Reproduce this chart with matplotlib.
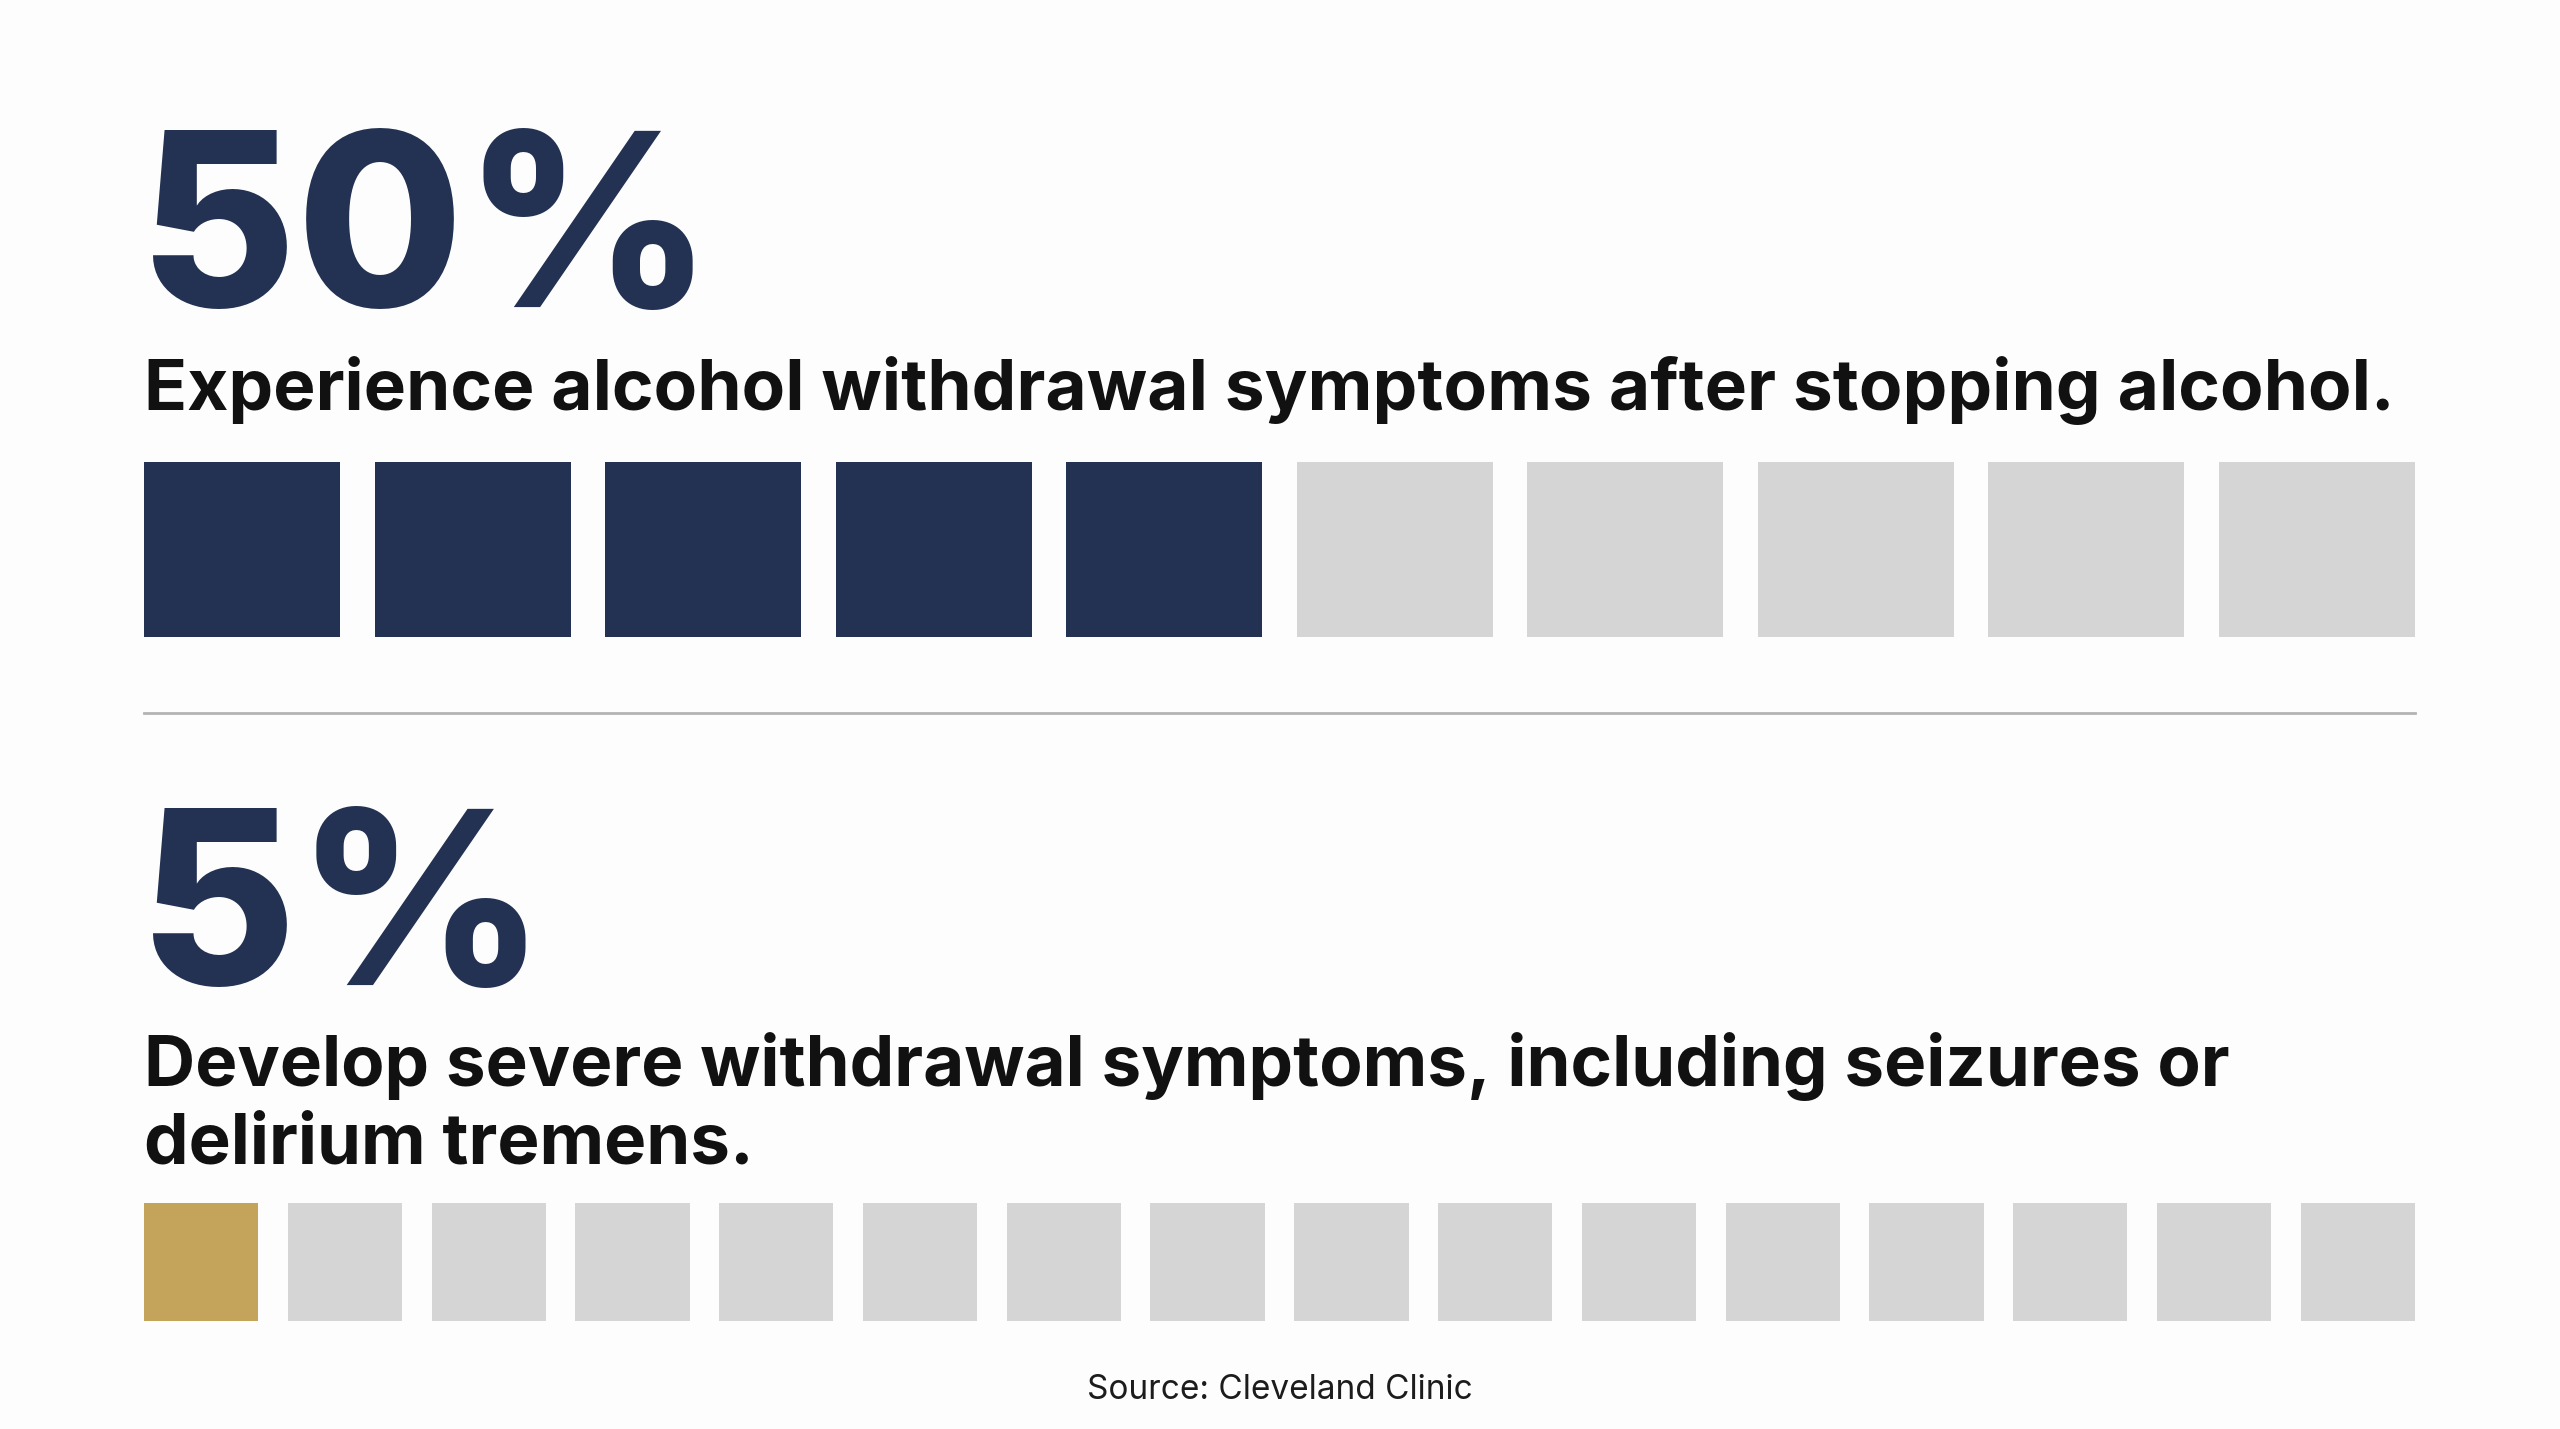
"""Waffle-style stat card: alcohol withdrawal figures."""
import matplotlib
matplotlib.use("Agg")
import matplotlib.pyplot as plt
import numpy as np

W, H = 2560, 1429
BG = "#fdfdfd"
NAVY = "#233253"
GOLD = "#c4a45a"
EMPTY = "#d5d5d5"
RULE = "#b4b4b4"

# data
stat_labels = ["50%", "5%"]
stat_captions = [
    ["Experience alcohol withdrawal symptoms after stopping alcohol."],
    ["Develop severe withdrawal symptoms, including seizures or",
     "delirium tremens."],
]
filled_counts = [5, 1]
total_counts = [10, 16]
fill_colors = [NAVY, GOLD]
source_text = "Source: Cleveland Clinic"


def fx(px):
    return px / W


def fy(py):
    return 1 - py / H


def fit_text(fig, x, y, s, target_px, **kw):
    t = fig.text(fx(x), fy(y), s, **kw)
    r = fig.canvas.get_renderer()
    w = t.get_window_extent(renderer=r).width
    t.set_fontsize(t.get_fontsize() * target_px / w)
    return t


def waffle(fig, rect, filled, total, color, width):
    left, top, right, bottom = rect
    ax = fig.add_axes([fx(left), fy(bottom), fx(right - left), (bottom - top) / H])
    x = np.arange(total)
    colors = [color] * filled + [EMPTY] * (total - filled)
    ax.bar(x, np.ones(total), width=width, color=colors, linewidth=0)
    ax.set_xlim(-width / 2, total - 1 + width / 2)
    ax.set_ylim(0, 1)
    ax.axis("off")
    return ax


fig = plt.figure(figsize=(W / 100, H / 100), dpi=100, facecolor=BG)

LEFT, RIGHT = 144, 2415
BIG = dict(fontsize=174, family="Inter", fontweight="heavy", color=NAVY,
           va="baseline")
BODY = dict(fontsize=50, family="Inter", fontweight="bold", color="#111111",
            va="baseline")

# top block
fig.text(fx(139), fy(307), stat_labels[0], **BIG)
fit_text(fig, 144, 410, stat_captions[0][0], 2250, **BODY)
waffle(fig, (LEFT, 462, RIGHT, 637), filled_counts[0], total_counts[0],
       fill_colors[0], 0.85)

# divider
fig.add_artist(plt.Line2D([fx(LEFT), fx(RIGHT)], [fy(713), fy(713)],
                          color=RULE, linewidth=2, transform=fig.transFigure))

# bottom block
fig.text(fx(139), fy(985), stat_labels[1], **BIG)
t = fit_text(fig, 144, 1086, stat_captions[1][0], 2090, **BODY)
fig.text(fx(144), fy(1163), stat_captions[1][1],
         **{**BODY, "fontsize": t.get_fontsize()})
waffle(fig, (LEFT, 1203, RIGHT, 1321), filled_counts[1], total_counts[1],
       fill_colors[1], 0.795)

fig.text(0.5, fy(1399), source_text, fontsize=24, family="Inter",
         fontweight="normal", color="#1c1c1c", ha="center", va="baseline")

fig.savefig("out.png", dpi=100, facecolor=BG)
